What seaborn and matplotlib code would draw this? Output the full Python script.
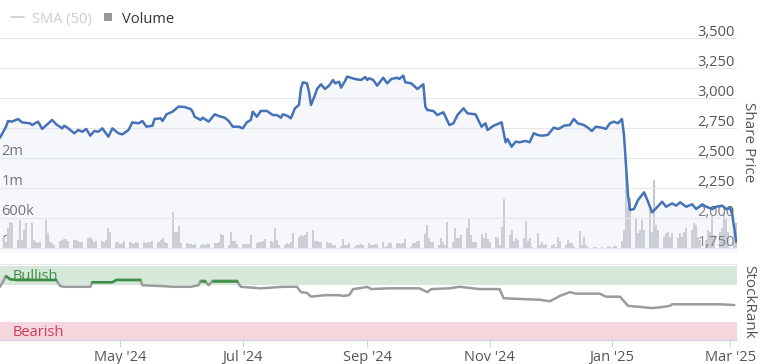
import numpy as np
import pandas as pd
import matplotlib
matplotlib.use("Agg")
import matplotlib.pyplot as plt
import matplotlib.transforms as mtransforms
from matplotlib.lines import Line2D
import seaborn as sns

# --- share price (p) ---
price_dates = [
    "2024-03-02", "2024-03-05", "2024-03-06", "2024-03-08", "2024-03-11", "2024-03-13", "2024-03-17",
    "2024-03-18", "2024-03-21", "2024-03-23", "2024-03-28", "2024-03-30", "2024-04-02", "2024-04-03",
    "2024-04-05", "2024-04-08", "2024-04-10", "2024-04-12", "2024-04-14", "2024-04-16", "2024-04-18",
    "2024-04-20", "2024-04-22", "2024-04-25", "2024-04-27", "2024-04-30", "2024-05-02", "2024-05-05",
    "2024-05-07", "2024-05-10", "2024-05-12", "2024-05-14", "2024-05-17", "2024-05-18", "2024-05-21",
    "2024-05-22", "2024-05-24", "2024-05-27", "2024-05-30", "2024-06-02", "2024-06-05", "2024-06-06",
    "2024-06-07", "2024-06-10", "2024-06-11", "2024-06-14", "2024-06-17", "2024-06-20", "2024-06-22",
    "2024-06-24", "2024-06-26", "2024-06-29", "2024-07-01", "2024-07-03", "2024-07-05", "2024-07-06",
    "2024-07-08", "2024-07-10", "2024-07-13", "2024-07-16", "2024-07-18", "2024-07-20", "2024-07-21",
    "2024-07-23", "2024-07-25", "2024-07-27", "2024-07-29", "2024-07-30", "2024-07-31", "2024-08-02",
    "2024-08-03", "2024-08-04", "2024-08-06", "2024-08-07", "2024-08-09", "2024-08-11", "2024-08-13",
    "2024-08-15", "2024-08-16", "2024-08-18", "2024-08-19", "2024-08-21", "2024-08-22", "2024-08-26",
    "2024-08-29", "2024-08-31", "2024-09-01", "2024-09-02", "2024-09-04", "2024-09-06", "2024-09-09",
    "2024-09-11", "2024-09-13", "2024-09-16", "2024-09-17", "2024-09-19", "2024-09-20", "2024-09-23",
    "2024-09-26", "2024-09-29", "2024-09-30", "2024-10-01", "2024-10-04", "2024-10-06", "2024-10-09",
    "2024-10-12", "2024-10-14", "2024-10-16", "2024-10-19", "2024-10-21", "2024-10-25", "2024-10-28",
    "2024-10-30", "2024-10-31", "2024-11-03", "2024-11-07", "2024-11-09", "2024-11-10", "2024-11-12",
    "2024-11-14", "2024-11-16", "2024-11-19", "2024-11-21", "2024-11-23", "2024-11-25", "2024-11-27",
    "2024-11-30", "2024-12-03", "2024-12-05", "2024-12-06", "2024-12-08", "2024-12-11", "2024-12-13",
    "2024-12-15", "2024-12-18", "2024-12-20", "2024-12-22", "2024-12-24", "2024-12-27", "2024-12-29",
    "2024-12-31", "2025-01-02", "2025-01-04", "2025-01-06", "2025-01-07", "2025-01-08", "2025-01-09",
    "2025-01-10", "2025-01-12", "2025-01-14", "2025-01-17", "2025-01-19", "2025-01-21", "2025-01-23",
    "2025-01-26", "2025-01-28", "2025-01-31", "2025-02-02", "2025-02-04", "2025-02-07", "2025-02-10",
    "2025-02-12", "2025-02-15", "2025-02-17", "2025-02-20", "2025-02-22", "2025-02-25", "2025-02-27",
    "2025-03-01", "2025-03-02", "2025-03-04",
]
price_values = [
    2669, 2761, 2808, 2803, 2825, 2797, 2789,
    2775, 2803, 2742, 2817, 2781, 2747, 2769,
    2747, 2706, 2733, 2719, 2742, 2686, 2725,
    2719, 2747, 2678, 2747, 2706, 2697, 2733,
    2797, 2789, 2808, 2761, 2769, 2825, 2831,
    2808, 2864, 2886, 2928, 2925, 2908, 2886,
    2844, 2817, 2836, 2803, 2864, 2844, 2836,
    2808, 2761, 2761, 2747, 2797, 2817, 2886,
    2844, 2892, 2892, 2858, 2858, 2836, 2864,
    2853, 2831, 2914, 2942, 3081, 3131, 3122,
    3053, 2942, 3025, 3075, 3114, 3075, 3103,
    3150, 3122, 3136, 3086, 3142, 3178, 3158,
    3150, 3175, 3150, 3164, 3150, 3103, 3169,
    3122, 3158, 3169, 3158, 3186, 3131, 3122,
    3075, 3114, 2928, 2900, 2892, 2858, 2881,
    2775, 2789, 2858, 2914, 2872, 2864, 2761,
    2789, 2733, 2769, 2797, 2631, 2658, 2594,
    2636, 2631, 2642, 2631, 2706, 2692, 2686,
    2692, 2753, 2742, 2747, 2769, 2775, 2825,
    2789, 2775, 2753, 2725, 2761, 2753, 2742,
    2789, 2803, 2789, 2825, 2692, 2442, 2192,
    2067, 2075, 2150, 2214, 2136, 2047, 2081,
    2136, 2094, 2122, 2103, 2131, 2094, 2114,
    2075, 2114, 2094, 2075, 2094, 2103, 2075,
    2081, 2025, 1800,
]

# --- daily volume in thousands, one value per business day from 2024-03-04 ---
volume_k = [
    220, 120, 400, 520, 500,   160, 560, 160, 360, 500,   500, 160, 120, 100, 120,
    560, 300, 120, 100, 60,    140, 160, 180, 180, 140,   160, 160, 140, 120, 120,
    200, 220, 180, 120, 140,   140, 120, 160, 400, 320,   120, 120, 80, 100, 140,
    120, 100, 80, 120, 100,    120, 100, 120, 120, 140,   120, 160, 200, 120, 100,
    680, 320, 320, 440, 100,   100, 80, 80, 60, 80,       60, 80, 60, 80, 80,
    100, 100, 120, 280, 260,   60, 320, 140, 140, 80,     80, 80, 80, 80, 260,
    100, 120, 120, 140, 180,   140, 120, 400, 160, 60,    60, 100, 80, 120, 300,
    220, 260, 240, 260, 320,   360, 140, 140, 120, 120,   120, 100, 100, 60, 60,
    40, 180, 60, 60, 100,      20, 60, 60, 80, 60,        100, 60, 60, 80, 80,
    120, 20, 40, 100, 100,     100, 100, 80, 100, 180,    20, 100, 100, 140, 140,
    280, 460, 200, 120, 120,   60, 200, 120, 60, 520,     120, 400, 200, 200, 260,
    400, 600, 260, 120, 120,   280, 200, 300, 180, 120,   220, 200, 60, 420, 853,
    260, 360, 140, 200, 160,   200, 540, 140, 200, 20,    300, 60, 120, 60, 80,
    60, 80, 20, 220, 140,      60, 160, 100, 100, 40,     340, 60, 220, 60, 20,
    15, 10, 0, 0, 12,          40, 20, 0, 40, 40,         140, 360, 1667, 747, 867,
    600, 300, 360, 560, 360,   720, 320, 1267, 460, 360,  220, 300, 320, 220, 300,
    200, 300, 220, 320, 400,   360, 500, 460, 220, 160,   160, 360, 320, 640, 260,
    320, 400, 667, 600, 320,   320, 500,
]

# --- StockRank ---
rank_dates = [
    "2024-03-02", "2024-03-05", "2024-03-07", "2024-03-10", "2024-03-30", "2024-04-01", "2024-04-03",
    "2024-04-16", "2024-04-17", "2024-04-27", "2024-04-29", "2024-05-11", "2024-05-12", "2024-05-21",
    "2024-05-28", "2024-06-05", "2024-06-09", "2024-06-10", "2024-06-12", "2024-06-14", "2024-06-16",
    "2024-06-28", "2024-06-30", "2024-07-10", "2024-07-21", "2024-07-28", "2024-07-30", "2024-08-02",
    "2024-08-04", "2024-08-11", "2024-08-18", "2024-08-20", "2024-08-23", "2024-08-25", "2024-08-28",
    "2024-09-01", "2024-09-03", "2024-09-12", "2024-09-24", "2024-09-27", "2024-10-01", "2024-10-03",
    "2024-10-12", "2024-10-17", "2024-10-27", "2024-11-06", "2024-11-08", "2024-11-16", "2024-11-26",
    "2024-12-01", "2024-12-04", "2024-12-06", "2024-12-11", "2024-12-14", "2024-12-26", "2024-12-29",
    "2025-01-05", "2025-01-09", "2025-01-17", "2025-01-21", "2025-01-25", "2025-01-30", "2025-01-31",
    "2025-02-14", "2025-02-24", "2025-03-03",
]
rank_values = [
    70, 84, 80, 79, 79, 71, 70,
    70, 76, 76, 79, 79, 72, 71,
    70, 70, 72, 78, 78, 72, 78,
    78, 70, 68, 70, 70, 63, 62,
    57, 59, 59, 58, 59, 67, 68,
    70, 67, 68, 68, 68, 63, 67,
    68, 70, 67, 67, 55, 54, 53,
    51, 55, 58, 63, 61, 61, 57,
    57, 45, 43, 42, 43, 45, 47,
    47, 47, 46,
]

price_ticks = [1750, 2000, 2250, 2500, 2750, 3000, 3250, 3500]
volume_ticks = [0, 600, 1000, 2000]
volume_labels = ["0", "600k", "1m", "2m"]
month_ticks = ["2024-05-01", "2024-07-01", "2024-09-01", "2024-11-01", "2025-01-01", "2025-03-01"]
month_labels = ["May '24", "Jul '24", "Sep '24", "Nov '24", "Jan '25", "Mar '25"]

BLUE = "#4572b8"
LABEL = "#555555"

sns.set_theme(style="white")
plt.rcParams["font.family"] = ["Open Sans", "DejaVu Sans"]


def vol_fwd(v):
    v = np.asarray(v, dtype=float)
    return np.where(v <= 600, v / 600, np.where(v <= 1000, 1 + (v - 600) / 400, 2 + (v - 1000) / 1000))


def vol_inv(u):
    u = np.asarray(u, dtype=float)
    return np.where(u <= 1, u * 600, np.where(u <= 2, 600 + (u - 1) * 400, 1000 + (u - 2) * 1000))


W, H = 760, 364
fig = plt.figure(figsize=(W / 100, H / 100), dpi=100)
ax_vol = fig.add_axes([0, 1 - 252 / H, 737 / W, 224 / H])
ax = ax_vol.twinx()
ax_rank = fig.add_axes([0, 1 - 340 / H, 737 / W, 76 / H], sharex=ax_vol)


def lift(labels, px, ha):
    off = mtransforms.ScaledTranslation(0, px / 100, fig.dpi_scale_trans)
    for lab in labels:
        lab.set_transform(lab.get_transform() + off)
        lab.set_verticalalignment("baseline")
        lab.set_horizontalalignment(ha)


# === volume bars ===
vol_dates = pd.bdate_range("2024-03-04", periods=len(volume_k))
ax_vol.bar(vol_dates, volume_k, width=1.0, color="#c3c5c9", linewidth=0)
ax_vol.set_yscale("function", functions=(vol_fwd, vol_inv))
ax_vol.set_ylim(-80, 6333)
ax_vol.set_yticks(volume_ticks)
ax_vol.set_yticklabels(volume_labels)
ax_vol.yaxis.set_minor_locator(matplotlib.ticker.NullLocator())
ax_vol.tick_params(axis="y", length=0, pad=-1, labelsize=10.5, labelcolor="#444444")
ax_vol.tick_params(axis="x", bottom=False, labelbottom=False)
lift(ax_vol.get_yticklabels(), 3, "left")

# === share price ===
pdates = pd.to_datetime(price_dates)
ax.fill_between(pdates, price_values, 1700, color="#dfe6f5", alpha=0.3, linewidth=0)
sns.lineplot(x=pdates, y=price_values, ax=ax, color=BLUE, linewidth=1.8)
ax.set_ylim(1717, 3583)
ax.set_yticks(price_ticks)
ax.set_yticklabels([f"{t:,}" for t in price_ticks])
ax.grid(axis="y", color="#e6e6e6", linewidth=0.8)
ax.tick_params(axis="y", length=0, pad=-1.5, labelsize=10.5, labelcolor=LABEL)
lift(ax.get_yticklabels(), 2, "right")
ax.set_ylabel("Share Price", rotation=270, fontsize=11, color=LABEL, va="center", ha="center")
ax.yaxis.set_label_coords(1.016, 0.49)

# legend (SMA hidden, so greyed out)
handles = [
    Line2D([0], [0], color="#cccccc", linewidth=1.2),
    Line2D([0], [0], marker="s", color="none", markerfacecolor="#9a9a9a", markeredgewidth=0, markersize=6),
]
ax_vol.legend(handles, ["SMA (50)", "Volume"], loc="lower left", bbox_to_anchor=(10 / 737, 1.0),
              ncol=2, frameon=False, fontsize=10.5, borderpad=0, borderaxespad=0.1,
              handlelength=0.85, handletextpad=0.55, columnspacing=0.7,
              labelcolor=["#cccccc", "#333333"])

# === StockRank ===
rank_df = pd.DataFrame({"date": pd.to_datetime(rank_dates), "rank": rank_values})
ax_rank.axhspan(73, 98, color="#d5e8da", linewidth=0)
ax_rank.axhspan(0, 24, color="#f5d6dc", linewidth=0)
sns.lineplot(data=rank_df, x="date", y="rank", ax=ax_rank, color="#9b9b9b", linewidth=1.8)
green = rank_df["rank"] >= 73
runs = (green != green.shift()).cumsum()
sns.lineplot(data=rank_df[green].assign(run=runs[green]), x="date", y="rank", units="run",
             estimator=None, ax=ax_rank, color="#3b9143", linewidth=1.8)
trans = mtransforms.blended_transform_factory(ax_rank.transAxes, ax_rank.transData)
ax_rank.text(0.017, 84, "Bullish", transform=trans, color="#3f8f45", fontsize=10.5, va="center")
ax_rank.text(0.017, 10, "Bearish", transform=trans, color="#d23c5c", fontsize=10.5, va="center")
ax_rank.set_ylim(0, 100)
ax_rank.set_yticks([0])
ax_rank.set_yticklabels(["0"])
ax_rank.yaxis.tick_right()
ax_rank.yaxis.set_label_position("right")
ax_rank.tick_params(axis="y", length=0, pad=-4, labelsize=10.5, labelcolor=LABEL)
lift(ax_rank.get_yticklabels(), 3, "right")
ax_rank.set_ylabel("StockRank", rotation=270, fontsize=11, color=LABEL, va="center", ha="center")
ax_rank.yaxis.set_label_coords(1.016, 0.5)
ax_rank.axhline(100, color="#e6e6e6", linewidth=0.8)

ax_rank.set_xticks(pd.to_datetime(month_ticks))
ax_rank.set_xticklabels(month_labels)
ax_rank.tick_params(axis="x", bottom=True, length=5, width=0.8, color="#ccd6eb", pad=2,
                    labelsize=10.5, labelcolor=LABEL)
ax_rank.set_xlabel("")
ax.set_xlabel("")
ax_rank.set_xlim(pd.Timestamp("2024-03-02"), pd.Timestamp("2025-03-04 08:00"))

for a in (ax_vol, ax, ax_rank):
    for s in a.spines.values():
        s.set_visible(False)
ax_rank.spines["bottom"].set_visible(True)
ax_rank.spines["bottom"].set_color("#ccd6eb")
ax_rank.spines["bottom"].set_linewidth(0.8)

fig.savefig("out.png", dpi=100, facecolor="white")
